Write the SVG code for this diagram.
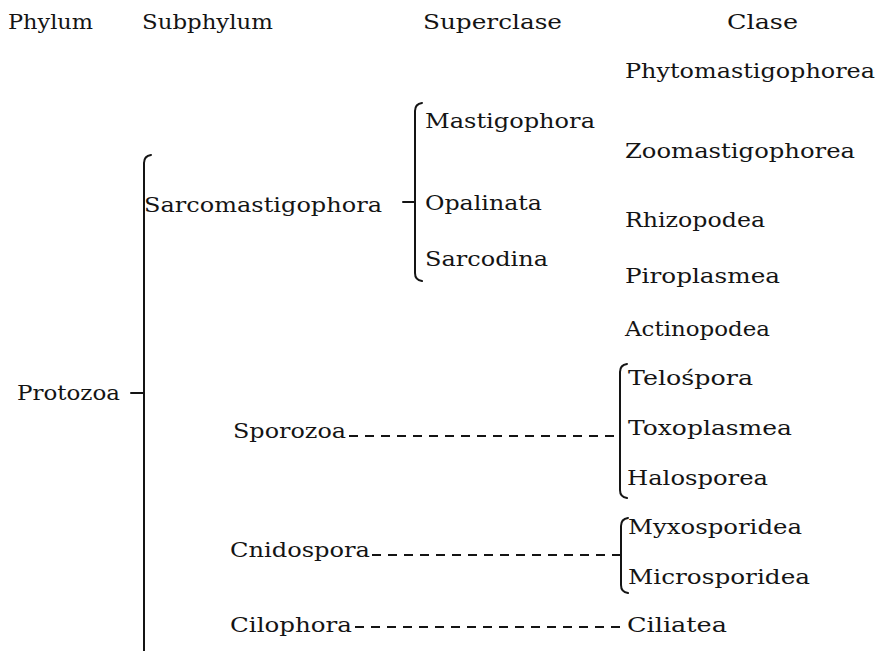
<svg xmlns="http://www.w3.org/2000/svg" width="878" height="651" viewBox="0 0 878 651">
<style>
text{font-family:"DejaVu Serif","Liberation Serif",serif;font-size:20px;fill:#141414}
.br{fill:none;stroke:#141414;stroke-width:2;stroke-linecap:round}
.dash{fill:none;stroke:#141414;stroke-width:1.8;stroke-dasharray:9 7}
</style>
<rect width="878" height="651" fill="#fff"/>
<g id="headers">
<text x="8" y="29" textLength="85" lengthAdjust="spacingAndGlyphs">Phylum</text>
<text x="142" y="29" textLength="131" lengthAdjust="spacingAndGlyphs">Subphylum</text>
<text x="423" y="29" textLength="139" lengthAdjust="spacingAndGlyphs">Superclase</text>
<text x="727" y="29" textLength="71" lengthAdjust="spacingAndGlyphs">Clase</text>
</g>
<g id="protozoa"><text x="17" y="400" textLength="103" lengthAdjust="spacingAndGlyphs">Protozoa</text></g>
<g id="sarcomastigophora"><text x="144" y="212" textLength="238" lengthAdjust="spacingAndGlyphs">Sarcomastigophora</text></g>
<g id="mastigophora"><text x="425" y="128" textLength="170" lengthAdjust="spacingAndGlyphs">Mastigophora</text></g>
<g id="opalinata"><text x="425" y="210" textLength="117" lengthAdjust="spacingAndGlyphs">Opalinata</text></g>
<g id="sarcodina"><text x="425" y="266" textLength="123" lengthAdjust="spacingAndGlyphs">Sarcodina</text></g>
<g id="phytomastigophorea"><text x="625" y="78" textLength="250" lengthAdjust="spacingAndGlyphs">Phytomastigophorea</text></g>
<g id="zoomastigophorea"><text x="625" y="158" textLength="230" lengthAdjust="spacingAndGlyphs">Zoomastigophorea</text></g>
<g id="rhizopodea"><text x="625" y="227" textLength="140" lengthAdjust="spacingAndGlyphs">Rhizopodea</text></g>
<g id="piroplasmea"><text x="625" y="283" textLength="155" lengthAdjust="spacingAndGlyphs">Piroplasmea</text></g>
<g id="actinopodea"><text x="625" y="336" textLength="145" lengthAdjust="spacingAndGlyphs">Actinopodea</text></g>
<g id="sporozoa"><text x="233" y="438" textLength="113" lengthAdjust="spacingAndGlyphs">Sporozoa</text></g>
<g id="telospora"><text x="628" y="385" textLength="125" lengthAdjust="spacingAndGlyphs">Telośpora</text></g>
<g id="toxoplasmea"><text x="628" y="435" textLength="164" lengthAdjust="spacingAndGlyphs">Toxoplasmea</text></g>
<g id="halosporea"><text x="627" y="485" textLength="141" lengthAdjust="spacingAndGlyphs">Halosporea</text></g>
<g id="cnidospora"><text x="230" y="557" textLength="140" lengthAdjust="spacingAndGlyphs">Cnidospora</text></g>
<g id="myxosporidea"><text x="628" y="534" textLength="174" lengthAdjust="spacingAndGlyphs">Myxosporidea</text></g>
<g id="microsporidea"><text x="628" y="584" textLength="182" lengthAdjust="spacingAndGlyphs">Microsporidea</text></g>
<g id="cilophora"><text x="230" y="632" textLength="122" lengthAdjust="spacingAndGlyphs">Cilophora</text></g>
<g id="ciliatea"><text x="627" y="632" textLength="100" lengthAdjust="spacingAndGlyphs">Ciliatea</text></g>
<g id="connectors">
<path class="br" d="M151,155 Q144,156 144,163 L144,651"/>
<path class="br" d="M131,393 L144,393"/>
<path class="br" d="M422,103 Q415,104 415,111 L415,273 Q415,280 422,281"/>
<path class="br" d="M403,202 L415,202"/>
<path class="br" d="M627,364 Q620,365 620,372 L620,490 Q620,497 627,498"/>
<path class="br" d="M628,518 Q621,519 621,526 L621,585 Q621,592 628,593"/>
<path class="dash" d="M349,436 L620,436"/>
<path class="dash" d="M372,555 L621,555"/>
<path class="dash" d="M355,627 L620,627"/>
</g>
</svg>
